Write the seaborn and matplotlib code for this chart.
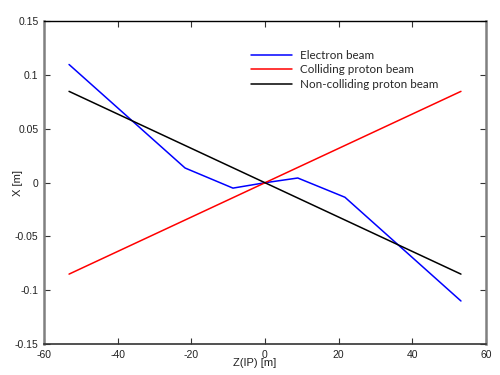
import matplotlib
matplotlib.use("Agg")
import matplotlib.pyplot as plt
import seaborn as sns
import pandas as pd
import numpy as np

# Data
electron_z = [-53.2, -21.7, -8.7, 0.0, 8.9, 21.7, 53.2]
electron_x = [0.110, 0.0137, -0.005, 0.0, 0.0044, -0.0135, -0.110]
colliding_z = [-53.2, 53.2]
colliding_x = [-0.085, 0.085]
noncolliding_z = [-53.2, 53.2]
noncolliding_x = [0.085, -0.085]

labels = ["Electron beam", "Colliding proton beam", "Non-colliding proton beam"]
colors = ["#0000ff", "#ff0000", "#000000"]

frames = []
for lab, zs, xs in zip(labels, [electron_z, colliding_z, noncolliding_z],
                       [electron_x, colliding_x, noncolliding_x]):
    frames.append(pd.DataFrame({"z": zs, "x": xs, "beam": lab}))
df = pd.concat(frames, ignore_index=True)

sns.set_style("white")
plt.rcParams["font.family"] = ["Liberation Sans", "DejaVu Sans"]

fig = plt.figure(figsize=(5, 3.75), dpi=100)
ax = fig.add_axes([0.088, 0.0827, 0.884, 0.86])

sns.lineplot(data=df, x="z", y="x", hue="beam", hue_order=labels,
             palette=colors, sort=False, estimator=None, linewidth=1.1, ax=ax)

ax.set_xlim(-60, 60)
ax.set_ylim(-0.15, 0.15)
ax.set_xticks([-60, -40, -20, 0, 20, 40, 60])
ax.set_yticks([-0.15, -0.1, -0.05, 0, 0.05, 0.1, 0.15])
ax.set_xticklabels(["-60", "-40", "-20", "0", "20", "40", "60"])
ax.set_yticklabels(["-0.15", "-0.1", "-0.05", "0", "0.05", "0.1", "0.15"])
ax.tick_params(direction="in", length=4, width=0.8, labelsize=7.5,
               top=True, right=True, bottom=True, left=True,
               labeltop=False, labelright=False, colors="#333333",
               labelcolor="#222222", pad=4)

for side in ["left", "right"]:
    ax.spines[side].set_color("#808080")
    ax.spines[side].set_linewidth(1.8)
ax.spines["top"].set_color("#000000")
ax.spines["top"].set_linewidth(1.0)
ax.spines["bottom"].set_color("#333333")
ax.spines["bottom"].set_linewidth(1.2)
for s in ax.spines.values():
    s.set_visible(True)

ax.set_xlabel("Z(IP) [m]", fontsize=8, color="#222222")
ax.xaxis.set_label_coords(0.477, -0.045)
ax.set_ylabel("X [m]", fontsize=8, color="#222222")
ax.yaxis.set_label_coords(-0.048, 0.5)

leg = ax.legend(loc="upper left", bbox_to_anchor=(0.444, 0.945), frameon=False,
                prop={"family": ["Lato", "DejaVu Sans"], "size": 8.4},
                handlelength=3.5, handletextpad=0.7, labelspacing=0.3)

fig.savefig("out.png", dpi=100)
